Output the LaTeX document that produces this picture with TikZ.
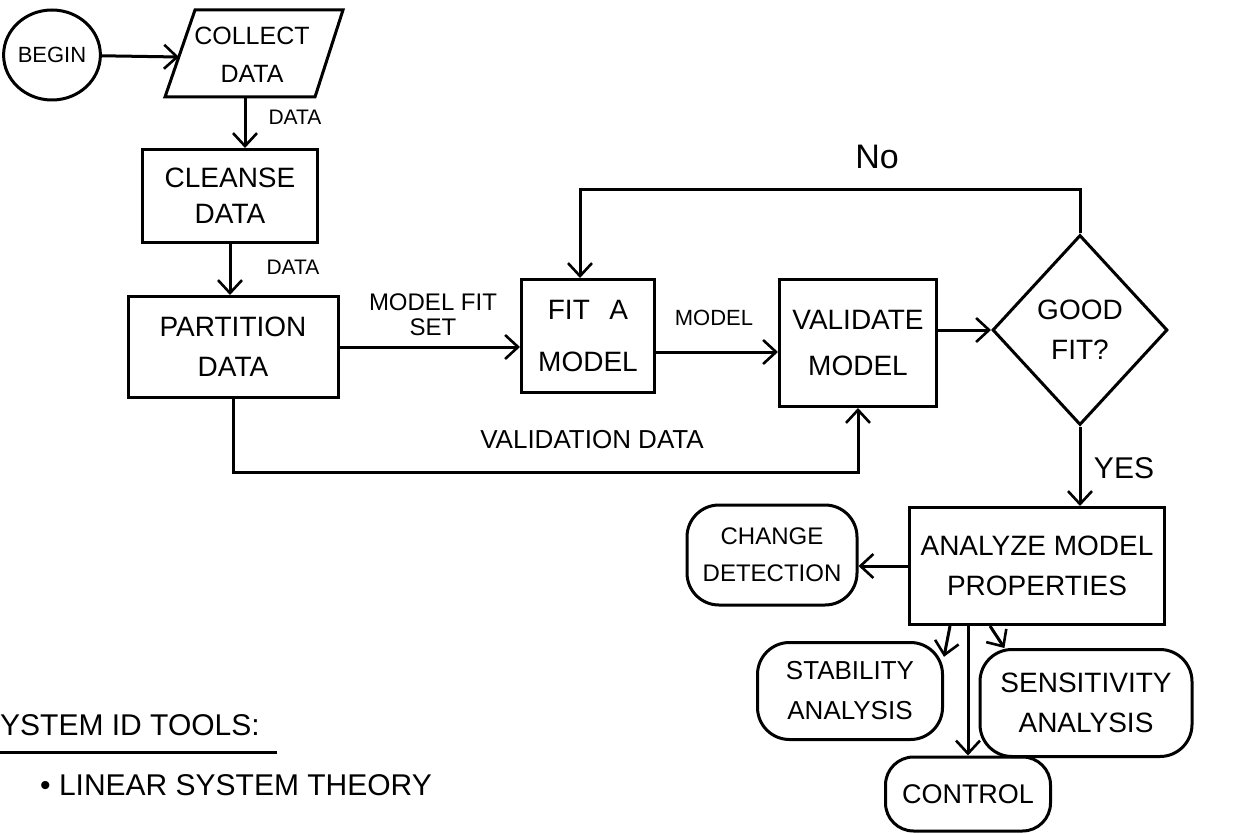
\documentclass[tikz,border=0pt]{standalone}
\usepackage{fontspec}
\setmainfont{Liberation Sans}
\usetikzlibrary{arrows.meta,shapes.geometric}
\begin{document}
\begin{tikzpicture}[x=1pt,y=-1pt,
  every node/.style={inner sep=0pt, align=center},
  ln/.style={line width=3pt},
  arr/.style={ln, -{Straight Barb[length=13pt,width=24pt,line width=2.6pt]}},
  procbox/.style={draw, ln, font=\fontsize{28}{40}\selectfont},
  termbox/.style={draw, ln, rounded corners=32pt, font=\fontsize{26}{40}\selectfont},
  lab/.style={font=\fontsize{21}{26}\selectfont},
]
\useasboundingbox[fill=white] (0,0) rectangle (1258,834);

% nodes
\node[draw, ln, ellipse, minimum width=95pt, minimum height=90pt, font=\fontsize{22}{26}\selectfont] (begin) at (52,55) {BEGIN};
\draw[ln] (195,10) -- (343,10) -- (315,97) -- (165,97) -- cycle;
\node[font=\fontsize{25}{38}\selectfont] (collect) at (252,55) {COLLECT\\DATA};
\coordinate (collectL) at (179,57);
\coordinate (collectB) at (245,97);

\node[procbox, minimum width=175pt, minimum height=93pt, font=\fontsize{28}{36}\selectfont] (cleanse) at (230,196) {CLEANSE\\DATA};
\node[procbox, minimum width=210pt, minimum height=101pt] (partition) at (233,347) {PARTITION\\DATA};
\node[procbox, minimum width=133pt, minimum height=113pt, font=\fontsize{28}{52}\selectfont] (fit) at (588,336) {FIT\hspace{0.7em}A\\MODEL};
\node[procbox, minimum width=157pt, minimum height=127pt, font=\fontsize{28}{46}\selectfont] (validate) at (858,343) {VALIDATE\\MODEL};
\node[draw, ln, diamond, minimum width=175pt, minimum height=190pt, font=\fontsize{28}{40}\selectfont] (dia) at (1080,330) {GOOD\\FIT?};
\node[procbox, minimum width=255pt, minimum height=117pt] (analyze) at (1037,566) {ANALYZE MODEL\\PROPERTIES};
\node[termbox, minimum width=170pt, minimum height=100pt, font=\fontsize{24}{37}\selectfont] (change) at (772,555) {CHANGE\\DETECTION};
\node[termbox, minimum width=185pt, minimum height=97pt] (stability) at (850,691) {STABILITY\\ANALYSIS};
\node[termbox, minimum width=212pt, minimum height=107pt, font=\fontsize{28}{40}\selectfont] (sensitivity) at (1086,703) {SENSITIVITY\\ANALYSIS};
\node[termbox, minimum width=165pt, minimum height=74pt, rounded corners=28pt, font=\fontsize{27}{32}\selectfont] (control) at (968,794) {CONTROL};

% labels
\node[lab] (l1) at (295,117) {DATA};
\node[lab] (l2) at (293,267) {DATA};
\node[font=\fontsize{24}{25}\selectfont] (l3) at (433,315) {MODEL FIT\\SET};
\node[font=\fontsize{22}{26}\selectfont] (l4) at (714,318) {MODEL};
\node[font=\fontsize{34}{40}\selectfont] (l5) at (877,157) {No};
\node[font=\fontsize{26}{30}\selectfont] (l6) at (592,440) {VALIDATION DATA};
\node[font=\fontsize{30}{36}\selectfont] (l7) at (1124,468) {YES};

% connectors
\draw[arr] (begin) -- (collectL);
\draw[arr] (collectB) -- (collectB |- cleanse.north);
\draw[arr] (cleanse.south) -- (cleanse.south |- partition.north);
\draw[arr] (partition.east) -- (partition.east -| fit.west);
\draw[arr] ([yshift=-16pt]fit.east) -- ([yshift=-16pt]fit.east -| validate.west);
\draw[arr] (validate.east |- dia.west) -- (dia.west);
\coordinate (loopR) at (1080,190);
\coordinate (loopL) at (580,190);
\draw[arr] (dia.north) -- (loopR) -- (loopL) -- (loopL |- fit.north);
\draw[arr] (dia.south) -- (dia.south |- analyze.north);
\draw[arr] (analyze.west) -- (analyze.west -| change.east);
\draw[arr] ([xshift=-87pt]analyze.south) -- (stability.20);
\draw[arr] ([xshift=-47pt]analyze.south) -- (sensitivity.146);
\draw[arr] (control.north |- analyze.south) -- (control.north);
\coordinate (valL) at (230,472);
\coordinate (valR) at (858,472);
\draw[arr] (partition.south) -- (partition.south |- valL) -- (valR) -- (valR |- validate.south);

% notes
\node[anchor=west, font=\fontsize{30}{36}\selectfont] (tools) at (0,725) {YSTEM ID TOOLS:};
\draw[ln] (0,752) -- (277,752);
\node[anchor=west, font=\fontsize{30}{36}\selectfont] (lst) at (40,785) {\textbullet\ LINEAR SYSTEM THEORY};
\end{tikzpicture}
\end{document}
